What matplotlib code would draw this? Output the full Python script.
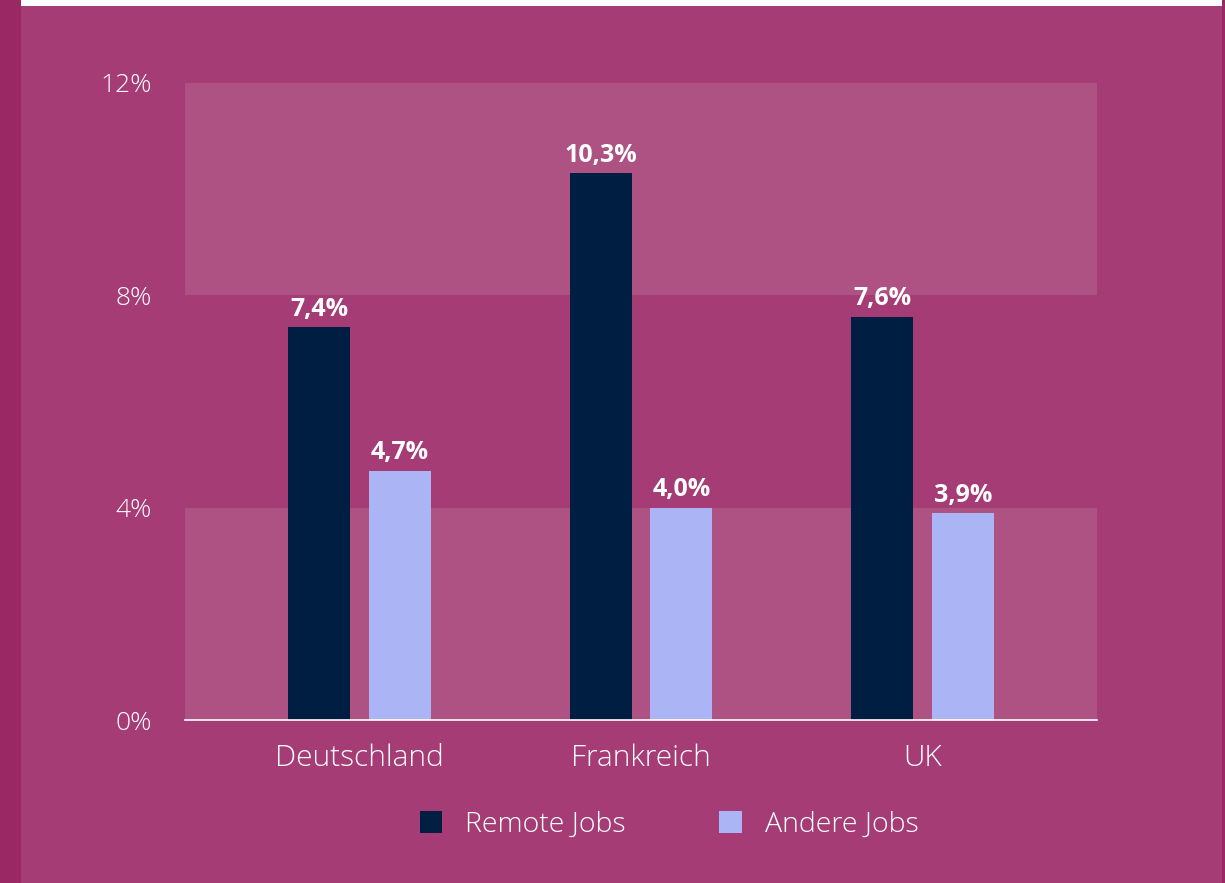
import matplotlib.pyplot as plt
import matplotlib.patches as mpatches
import numpy as np

plt.rcParams['font.family'] = ['Open Sans', 'DejaVu Sans']

countries = ['Deutschland', 'Frankreich', 'UK']
remote_jobs = [7.4, 10.3, 7.6]
andere_jobs = [4.7, 4.0, 3.9]
series_names = ['Remote Jobs', 'Andere Jobs']
y_ticks = [0, 4, 8, 12]

bg = '#A53C75'
band = '#AE5283'
navy = '#001E42'
lavender = '#ABB4F4'

fig = plt.figure(figsize=(12.25, 8.83), dpi=100)
fig.patch.set_facecolor(bg)

# left strip and top white border
fig.patches.append(mpatches.Rectangle((0, 0), 21 / 1225, 1, transform=fig.transFigure,
                                      facecolor='#9A2864', edgecolor='none'))
fig.patches.append(mpatches.Rectangle((21 / 1225, 1 - 6 / 883), (1222 - 21) / 1225, 6 / 883,
                                      transform=fig.transFigure, facecolor='white', edgecolor='none'))
fig.patches.append(mpatches.Rectangle((1222 / 1225, 0), 3 / 1225, 1, transform=fig.transFigure,
                                      facecolor='#9A2864', edgecolor='none'))

ax = fig.add_axes([185 / 1225, 1 - 720 / 883, (1097 - 185) / 1225, (720 - 83) / 883])
ax.set_facecolor('none')

ax.axhspan(0, 4, color=band, zorder=0, lw=0)
ax.axhspan(8, 12, color=band, zorder=0, lw=0)

x = np.arange(len(countries))
w = 0.22
off = 0.143
b1 = ax.bar(x - off, remote_jobs, w, color=navy, label=series_names[0], zorder=2)
b2 = ax.bar(x + off, andere_jobs, w, color=lavender, label=series_names[1], zorder=2)

for bars, vals in ((b1, remote_jobs), (b2, andere_jobs)):
    for b, v in zip(bars, vals):
        ax.text(b.get_x() + b.get_width() / 2, v + 0.1, f'{v:.1f}%'.replace('.', ','),
                ha='center', va='bottom', color='white', fontsize=18, fontweight='bold')

ax.set_xlim(-0.62, 2.62)
ax.set_ylim(0, 12)
ax.set_yticks(y_ticks)
ax.set_yticklabels([f'{t}%' for t in y_ticks], fontweight='light')
ax.set_xticks(x)
ax.set_xticklabels(countries, fontweight='light')
ax.tick_params(axis='y', length=0, pad=24, labelsize=19, labelcolor='white')
ax.tick_params(axis='x', length=0, pad=17, labelsize=21.5, labelcolor='white')
for s in ['top', 'right', 'left']:
    ax.spines[s].set_visible(False)
ax.spines['bottom'].set_color('white')
ax.spines['bottom'].set_linewidth(1.2)

leg = fig.legend(handles=[b1, b2], loc='center', bbox_to_anchor=(669 / 1225, 1 - 825 / 883),
                 ncol=2, frameon=False, prop={'size': 20.5, 'weight': 'light'},
                 handlelength=0.8, handleheight=0.8,
                 handletextpad=0.8, columnspacing=3.27, labelcolor='white')

fig.savefig('out.png', dpi=100, facecolor=bg)
